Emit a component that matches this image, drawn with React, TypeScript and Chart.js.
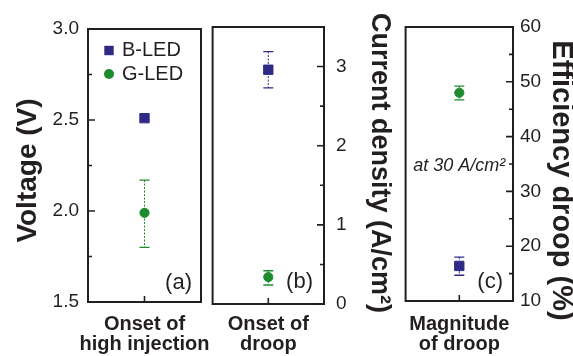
import React, { useEffect, useRef } from "react";
import { Chart, registerables } from "chart.js";

Chart.register(...registerables);

// ---------------- data ----------------
const categories: string[][] = [
  ["Onset of", "high injection"],
  ["Onset of", "droop"],
  ["Magnitude", "of droop"],
];
const seriesNames = ["B-LED", "G-LED"];
const bLedValues = [2.51, 2.96, 16.4];
const bLedLow = [2.51, 2.73, 14.7];
const bLedHigh = [2.51, 3.19, 18.0];
const gLedValues = [1.99, 0.34, 48.0];
const gLedLow = [1.8, 0.24, 46.7];
const gLedHigh = [2.17, 0.42, 49.2];
const axisTitles = ["Voltage (V)", "Current density (A/cm²)", "Efficiency droop (%)"];
const axisMin = [1.5, 0, 10];
const axisMax = [3.0, 3.5, 60];
const minorStep = [0.25, 0.5, 5];
const majorStep = [0.5, 1, 10];
const tickDecimals = [1, 0, 0];
const panelTags = ["(a)", "(b)", "(c)"];
const noteText = "at 30 A/cm²";

// ---------------- styles / layout ----------------
const FONT = "'Liberation Sans', Arial, Helvetica, sans-serif";
const INK = "#231f20";
const BLUE = "#2e2a86";
const GREEN = "#1e8c2e";

const layoutSpec = [
  { left: 0, width: 216, padL: 0, padR: 15, padT: 29, yPos: "left", yWidth: 88, xHeight: 54, yTickPad: 9, xTickPad: 12.5, titleSize: 28, titleX: 28, titleY: 170.5, tagDx: 9, tagDy: 19, legend: true, note: false },
  { left: 205, width: 193, padL: 6, padR: 0, padT: 27, yPos: "right", yWidth: 74, xHeight: 52, yTickPad: 12, xTickPad: 10.5, titleSize: 27, titleX: 379.5, titleY: 163, tagDx: 11, tagDy: 22.5, legend: false, note: false },
  { left: 398, width: 175, padL: 4, padR: 0, padT: 27, yPos: "right", yWidth: 60, xHeight: 55, yTickPad: 7, xTickPad: 13.5, titleSize: 29, titleX: 561, titleY: 180.5, tagDx: 10, tagDy: 19.5, legend: false, note: true },
];

function buildConfig(i: number) {
  const L = layoutSpec[i];
  const isLeft = L.yPos === "left";

  const decor = {
    id: "decor",
    beforeDatasetsDraw(chart: any) {
      const ctx = chart.ctx;
      const ys = chart.scales.y;
      chart.data.datasets.forEach((ds: any, d: number) => {
        const meta = chart.getDatasetMeta(d);
        meta.data.forEach((el: any, j: number) => {
          const lo = ds.errLow[j];
          const hi = ds.errHigh[j];
          if (lo === hi) return;
          const yl = ys.getPixelForValue(lo);
          const yh = ys.getPixelForValue(hi);
          ctx.save();
          ctx.strokeStyle = ds.borderColor;
          ctx.lineWidth = 1;
          ctx.setLineDash([2, 1.5]);
          ctx.beginPath();
          ctx.moveTo(el.x, yh);
          ctx.lineTo(el.x, yl);
          ctx.stroke();
          ctx.setLineDash([]);
          ctx.lineWidth = 1.3;
          ctx.beginPath();
          ctx.moveTo(el.x - 5, yh);
          ctx.lineTo(el.x + 5, yh);
          ctx.moveTo(el.x - 5, yl);
          ctx.lineTo(el.x + 5, yl);
          ctx.stroke();
          ctx.restore();
        });
      });
    },
    afterDraw(chart: any) {
      const ctx = chart.ctx;
      const ca = chart.chartArea;
      const ys = chart.scales.y;
      const xs = chart.scales.x;
      ctx.save();
      // frame
      ctx.strokeStyle = INK;
      ctx.lineWidth = 2;
      ctx.strokeRect(ca.left, ca.top, ca.right - ca.left, ca.bottom - ca.top);
      // inward y ticks
      ctx.lineWidth = 1.6;
      ctx.beginPath();
      ys.ticks.forEach((t: any) => {
        const py = ys.getPixelForValue(t.value);
        const len = t.label !== "" ? 7 : 4;
        if (isLeft) {
          ctx.moveTo(ca.left, py);
          ctx.lineTo(ca.left + len, py);
        } else {
          ctx.moveTo(ca.right, py);
          ctx.lineTo(ca.right - len, py);
        }
      });
      // inward x tick
      const px = xs.getPixelForTick(0);
      ctx.moveTo(px, ca.bottom);
      ctx.lineTo(px, ca.bottom - 6);
      ctx.stroke();

      // legend
      if (L.legend) {
        const lx = ca.left + 21;
        ctx.fillStyle = BLUE;
        ctx.fillRect(lx - 4.7, ca.top + 21.5 - 4.7, 9.4, 9.4);
        ctx.fillStyle = GREEN;
        ctx.beginPath();
        ctx.arc(lx, ca.top + 45, 5, 0, Math.PI * 2);
        ctx.fill();
        ctx.fillStyle = INK;
        ctx.font = `20px ${FONT}`;
        ctx.textAlign = "left";
        ctx.textBaseline = "middle";
        ctx.fillText(seriesNames[0], ca.left + 34, ca.top + 21.5);
        ctx.fillText(seriesNames[1], ca.left + 34, ca.top + 45);
      }

      // panel tag
      ctx.fillStyle = INK;
      ctx.font = `22px ${FONT}`;
      ctx.textAlign = "right";
      ctx.textBaseline = "middle";
      ctx.fillText(panelTags[i], ca.right - L.tagDx, ca.bottom - L.tagDy);

      // note
      if (L.note) {
        ctx.font = `italic 18px ${FONT}`;
        ctx.textAlign = "center";
        ctx.fillText(noteText, (ca.left + ca.right) / 2, ca.top + 139);
      }

      // axis title
      ctx.font = `bold ${L.titleSize}px ${FONT}`;
      ctx.textAlign = "center";
      ctx.textBaseline = "middle";
      ctx.translate(L.titleX - L.left, L.titleY);
      ctx.rotate(isLeft ? -Math.PI / 2 : Math.PI / 2);
      ctx.fillText(axisTitles[i], 0, 0);
      ctx.restore();
    },
  };

  return {
    type: "line",
    data: {
      labels: [categories[i]],
      datasets: [
        {
          label: seriesNames[0],
          data: [bLedValues[i]],
          errLow: [bLedLow[i]],
          errHigh: [bLedHigh[i]],
          showLine: false,
          pointStyle: "rect",
          pointRadius: 6.6,
          pointBorderWidth: 1,
          backgroundColor: BLUE,
          borderColor: BLUE,
        },
        {
          label: seriesNames[1],
          data: [gLedValues[i]],
          errLow: [gLedLow[i]],
          errHigh: [gLedHigh[i]],
          showLine: false,
          pointStyle: "circle",
          pointRadius: 4.6,
          pointBorderWidth: 1,
          backgroundColor: GREEN,
          borderColor: GREEN,
        },
      ],
    },
    options: {
      responsive: false,
      animation: false,
      events: [],
      layout: { padding: { left: L.padL, right: L.padR, top: L.padT, bottom: 0 } },
      plugins: { legend: { display: false }, tooltip: { enabled: false } },
      scales: {
        x: {
          type: "category",
          offset: true,
          grid: { display: false, drawTicks: false },
          border: { display: false },
          ticks: {
            autoSkip: false,
            maxRotation: 0,
            minRotation: 0,
            padding: L.xTickPad,
            color: INK,
            font: { family: FONT, size: 20, weight: "bold", lineHeight: 1 },
          },
          afterFit: (s: any) => {
            s.height = L.xHeight;
            s.paddingLeft = 0;
            s.paddingRight = 0;
          },
        },
        y: {
          type: "linear",
          position: L.yPos,
          min: axisMin[i],
          max: axisMax[i],
          grid: { display: false, drawTicks: false },
          border: { display: false },
          ticks: {
            stepSize: minorStep[i],
            autoSkip: false,
            padding: L.yTickPad,
            color: INK,
            font: { family: FONT, size: 19 },
            callback: (v: any) => {
              const r = v / majorStep[i];
              return Math.abs(r - Math.round(r)) < 1e-6 ? Number(v).toFixed(tickDecimals[i]) : "";
            },
          },
          afterFit: (s: any) => {
            s.width = L.yWidth;
            s.paddingTop = 0;
            s.paddingBottom = 0;
          },
        },
      },
    },
    plugins: [decor],
  };
}

function Panel({ index }: { index: number }) {
  const ref = useRef<HTMLCanvasElement>(null);
  useEffect(() => {
    const chart = new Chart(ref.current as HTMLCanvasElement, buildConfig(index) as any);
    return () => chart.destroy();
  }, [index]);
  const s = layoutSpec[index];
  return (
    <canvas
      ref={ref}
      width={s.width}
      height={356}
      style={{ position: "absolute", left: s.left, top: 0, width: s.width, height: 356 }}
    />
  );
}

export default function App() {
  return (
    <div
      style={{
        position: "absolute",
        left: 0,
        top: 0,
        width: 573,
        height: 356,
        overflow: "hidden",
        background: "#ffffff",
      }}
    >
      <Panel index={0} />
      <Panel index={1} />
      <Panel index={2} />
    </div>
  );
}
